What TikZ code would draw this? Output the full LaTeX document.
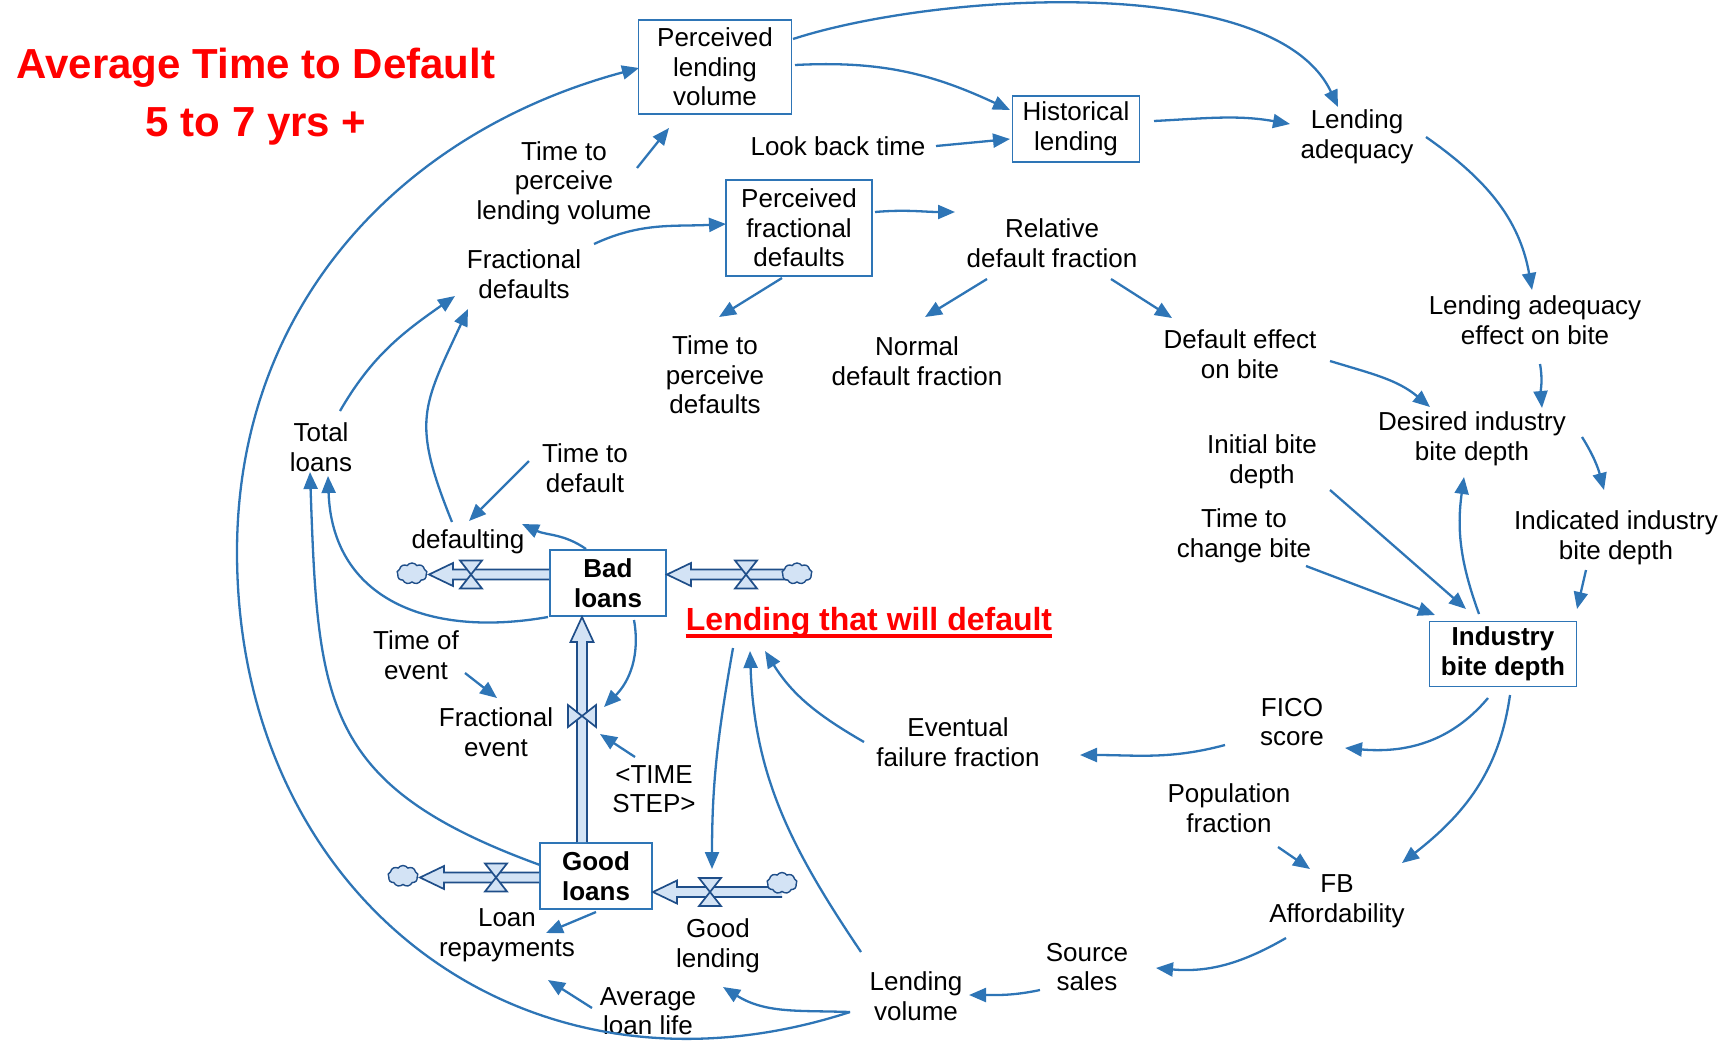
\documentclass[tikz,border=0pt]{standalone}
\usepackage{fontspec}
\setmainfont{Liberation Sans}
\usetikzlibrary{arrows.meta,calc,shapes.symbols}
\definecolor{linkblue}{HTML}{2E75B6}
\definecolor{pipeblue}{HTML}{1F4E89}
\definecolor{pipefill}{HTML}{D3E3F5}
\definecolor{alertred}{HTML}{FF0000}

\tikzset{
  lbl/.style={align=center, inner sep=2pt, font=\fontsize{26}{29.5}\selectfont},
  aux/.style={draw=linkblue, line width=1.9pt, align=center, inner sep=0pt, font=\fontsize{26}{29.5}\selectfont},
  stock/.style={aux, font=\fontsize{26}{29.5}\selectfont\bfseries},
  conn/.style={draw=linkblue, line width=2.3pt, -{Triangle[length=17pt,width=14pt]}},
  pipeline/.style={draw=pipeblue, fill=pipefill, line width=1.7pt, line join=miter},
  sink/.style={cloud, cloud puffs=9, cloud puff arc=110, cloud ignores aspect, draw=pipeblue, fill=pipefill, line width=1.4pt, minimum width=30pt, minimum height=21pt, inner sep=0pt},
  valveh/.pic={\filldraw[pipeline] (-11,14) -- (11,14) -- (0,0) -- cycle (-11,-14) -- (11,-14) -- (0,0) -- cycle;},
  valvev/.pic={\filldraw[pipeline] (-14,11) -- (-14,-11) -- (0,0) -- cycle (14,11) -- (14,-11) -- (0,0) -- cycle;},
  headline/.style={anchor=base, text=alertred, font=\fontsize{42}{50}\selectfont\bfseries},
}

% flow pipe pointing left: #1 = tail (right end), #2 = tip
\newcommand\pipeleft[2]{\filldraw[pipeline] ($(#1)+(0,5)$) -- ($(#2)+(24,5)$) -- ($(#2)+(24,11.5)$) -- (#2) -- ($(#2)+(24,-11.5)$) -- ($(#2)+(24,-5)$) -- ($(#1)+(0,-5)$);}
% flow pipe pointing up: #1 = tail (bottom end), #2 = tip
\newcommand\pipeup[2]{\filldraw[pipeline] ($(#1)+(-5,0)$) -- ($(#2)+(-5,-25)$) -- ($(#2)+(-11.5,-25)$) -- (#2) -- ($(#2)+(11.5,-25)$) -- ($(#2)+(5,-25)$) -- ($(#1)+(5,0)$);}

\begin{document}
\begin{tikzpicture}[x=1pt,y=1pt]
\useasboundingbox (0,0) rectangle (1731,-1045);

% heading
\node[headline] (t1) at (256,-78) {Average Time to Default};
\node[headline] (t2) at (256,-136) {5 to 7 yrs +};

% boxed variables and stocks
\node[aux, minimum width=153pt, minimum height=94pt] (plv) at (715,-67) {Perceived\\lending\\volume};
\node[aux, minimum width=127pt, minimum height=66pt] (hl) at (1076,-129) {Historical\\lending};
\node[aux, minimum width=146pt, minimum height=96pt] (pfd) at (799,-228) {Perceived\\fractional\\defaults};
\node[stock, minimum width=116pt, minimum height=66pt] (bad) at (608,-583) {Bad\\loans};
\node[stock, minimum width=112pt, minimum height=66pt] (good) at (596,-876) {Good\\loans};
\node[stock, minimum width=147pt, minimum height=65pt] (ibd) at (1503,-654) {Industry\\bite depth};

% auxiliary variables
\node[lbl] (la) at (1357,-137) {Lending\\adequacy};
\node[lbl] (lbt) at (838,-146) {Look back time};
\node[lbl] (tplv) at (564,-183) {Time to\\perceive\\lending volume};
\node[lbl] (fd) at (524,-274) {Fractional\\defaults};
\node[lbl] (rdf) at (1052,-243) {Relative\\default fraction};
\node[lbl] (tpd) at (715,-375) {Time to\\perceive\\defaults};
\node[lbl] (ndf) at (917,-361) {Normal\\default fraction};
\node[lbl] (deb) at (1240,-354) {Default effect\\on bite};
\node[lbl] (laeb) at (1535,-320) {Lending adequacy\\effect on bite};
\node[lbl] (dibd) at (1472,-439) {Desired industry\\bite depth};
\node[lbl] (ibdep) at (1262,-462) {Initial bite\\depth};
\node[lbl] (tcb) at (1244,-536) {Time to\\change bite};
\node[lbl] (iibd) at (1616,-538) {Indicated industry\\bite depth};
\node[lbl] (tl) at (321,-447) {Total\\loans};
\node[lbl] (ttd) at (585,-468) {Time to\\default};
\node[lbl] (dft) at (468,-542) {defaulting};
\node[lbl] (toe) at (416,-655) {Time of\\event};
\node[lbl] (fe) at (496,-732) {Fractional\\event};
\node[lbl] (ts) at (654,-789) {<TIME\\STEP>};
\node[lbl] (eff) at (958,-742) {Eventual\\failure fraction};
\node[lbl] (fico) at (1292,-722) {FICO\\score};
\node[lbl] (pf) at (1229,-808) {Population\\fraction};
\node[lbl] (fba) at (1337,-901) {FB\\Affordability};
\node[lbl] (ss) at (1087,-967) {Source\\sales};
\node[lbl] (lv) at (916,-996) {Lending\\volume};
\node[lbl] (gl) at (718,-946) {Good\\lending};
\node[lbl] (lr) at (507,-935) {Loan\\repayments};
\node[lbl] (all) at (648,-1011) {Average\\loan life};

% highlighted caption
\node[anchor=base, inner sep=0pt, text=alertred, font=\fontsize{32}{38}\selectfont\bfseries] (ltwd) at (869,-630) {Lending that will default};
\draw[alertred, line width=3.2pt] ($(ltwd.base west)+(0,-6)$) -- ($(ltwd.base east)+(0,-6)$);

% valve and cloud positions
\coordinate (vdef) at (471,-574.5);
\coordinate (vin) at (746,-574.5);
\coordinate (vfe) at (582,-716);
\coordinate (vrep) at (496,-877.5);
\coordinate (vgl) at (710,-892);
\coordinate (cdefc) at (412,-573.5);
\coordinate (cinc) at (797,-573.5);
\coordinate (crepc) at (403,-876);
\coordinate (cglc) at (782,-883);
\coordinate (arcwest) at (237,-552);

% information links
\draw[conn] ($(plv)+(78,28)$) to[out=18,in=115,looseness=0.7] ($(la)+(-19,30)$);
\draw[conn] ($(plv)+(80,2)$) to[out=3,in=155] ($(hl)+(-66,19)$);
\draw[conn] ($(lbt)+(98,0)$) -- ($(hl)+(-66,-10)$);
\draw[conn] ($(hl)+(78,8)$) to[out=3,in=170] ($(la)+(-67,13)$);
\draw[conn] ($(la)+(69,0)$) to[out=-35,in=100] ($(laeb)+(-3,30)$);
\draw[conn] ($(laeb)+(5,-44)$) to[out=-80,in=95] ($(dibd)+(70,31)$);
\draw[conn] ($(deb)+(90,-7)$) to[out=-17,in=140] ($(dibd)+(-42,32)$);
\draw[conn] ($(dibd)+(110,2)$) to[out=-58,in=105] ($(iibd)+(-12,48)$);
\draw[conn] ($(iibd)+(-30,-32)$) -- ($(ibd)+(74,45)$);
\draw[conn] ($(ibd)+(-24,40)$) to[out=110,in=-98] ($(dibd)+(-8,-38)$);
\draw[conn] ($(ibdep)+(68,-28)$) -- ($(ibd)+(-37,45)$);
\draw[conn] ($(tcb)+(62,-30)$) -- ($(ibd)+(-68,39)$);
\draw[conn] ($(ibd)+(-15,-44)$) to[out=-130,in=-5] ($(fico)+(53,-26)$);
\draw[conn] ($(ibd)+(7,-41)$) to[out=-98,in=38] ($(fba)+(65,38)$);
\draw[conn] ($(fico)+(-67,-23)$) to[out=195,in=0] ($(eff)+(122,-13)$);
\draw[conn] ($(pf)+(49,-39)$) -- ($(fba)+(-27,32)$);
\draw[conn] ($(fba)+(-51,-37)$) to[out=210,in=-5] ($(ss)+(69,-1)$);
\draw[conn] ($(ss)+(-47,-23)$) to[out=192,in=0] ($(lv)+(53,1)$);
\draw[conn] ($(eff)+(-94,0)$) to[out=150,in=-58] ($(ltwd.base)+(-104,-21)$);
\draw[conn] ($(lv)+(-55,44)$) to[out=124,in=-88] ($(ltwd.base)+(-119,-21)$);
\draw[conn] ($(ltwd.base)+(-136,-18)$) to[out=-100,in=90] ($(vgl)+(2,23)$);
\draw[conn] ($(lv)+(-66,-16)$) to[out=178,in=-32] ($(gl)+(5,-41)$);
\draw[conn] ($(lv)+(-66,-16)$) to[out=198,in=-90,looseness=1.15] (arcwest) to[out=90,in=195] ($(plv)+(-76,-1)$);
\draw[conn] ($(bad)+(-60,-34)$) to[out=190,in=-88,looseness=1.2] ($(tl)+(7,-29)$);
\draw[conn] ($(good)+(-56,11)$) to[out=160,in=-88,looseness=1.3] ($(tl)+(-11,-25)$);
\draw[conn] ($(tl)+(19,36)$) to[out=60,in=215] ($(fd)+(-69,-22)$);
\draw[conn] ($(dft)+(-16,20)$) to[out=112,in=-115,looseness=1.3] ($(fd)+(-56,-35)$);
\draw[conn] ($(ttd)+(-56,7)$) -- ($(dft)+(1,21)$);
\draw[conn] ($(bad)+(-22,34)$) to[out=145,in=-25] ($(dft)+(54,18)$);
\draw[conn] ($(fd)+(70,30)$) to[out=25,in=183] ($(pfd)+(-73,4)$);
\draw[conn] ($(tplv)+(73,15)$) -- ($(plv)+(-46,-61)$);
\draw[conn] ($(pfd)+(76,16)$) to[out=5,in=180] ($(rdf)+(-97,31)$);
\draw[conn] ($(pfd)+(-17,-50)$) -- ($(tpd)+(4,58)$);
\draw[conn] ($(rdf)+(-65,-36)$) -- ($(ndf)+(8,44)$);
\draw[conn] ($(rdf)+(59,-36)$) -- ($(deb)+(-68,36)$);
\draw[conn] ($(toe)+(49,-18)$) -- ($(fe)+(1,34)$);
\draw[conn] ($(bad)+(26,-37)$) to[out=-80,in=45] ($(vfe)+(22,9)$);
\draw[conn] ($(ts)+(-19,32)$) -- ($(vfe)+(18,-18)$);
\draw[conn] ($(good)+(0,-36)$) -- ($(lr)+(39,2)$);
\draw[conn] ($(all)+(-56,3)$) -- ($(lr)+(41,-45)$);

% material flows
\coordinate (pd0) at ($(bad.west)+(0,8.5)$);
\coordinate (pd1) at ($(cdefc)+(17,-1)$);
\pipeleft{pd0}{pd1}
\coordinate (pi1) at ($(bad.east)+(0,8.5)$);
\coordinate (pi0) at (cinc |- pi1);
\pipeleft{pi0}{pi1}
\coordinate (pv0) at ($(good.north)+(-14,0)$);
\coordinate (pv1) at ($(bad.south)+(-26,0)$);
\pipeup{pv0}{pv1}
\coordinate (pr0) at ($(good.west)+(0,-1.5)$);
\coordinate (pr1) at (crepc |- pr0);
\coordinate (pr2) at ($(pr1)+(17,0)$);
\pipeleft{pr0}{pr2}
\coordinate (pg1) at ($(good.east)+(0,-16)$);
\coordinate (pg0) at (cglc |- pg1);
\pipeleft{pg0}{pg1}

% valves
\pic at (vdef) {valveh};
\pic at (vin) {valveh};
\pic at (vfe) {valvev};
\pic at (vrep) {valveh};
\pic at (vgl) {valveh};

% sources and sinks
\node[sink] (cdef) at (cdefc) {};
\node[sink] (cin) at (cinc) {};
\node[sink] (crep) at (crepc) {};
\node[sink] (cgl) at (cglc) {};
\end{tikzpicture}
\end{document}
